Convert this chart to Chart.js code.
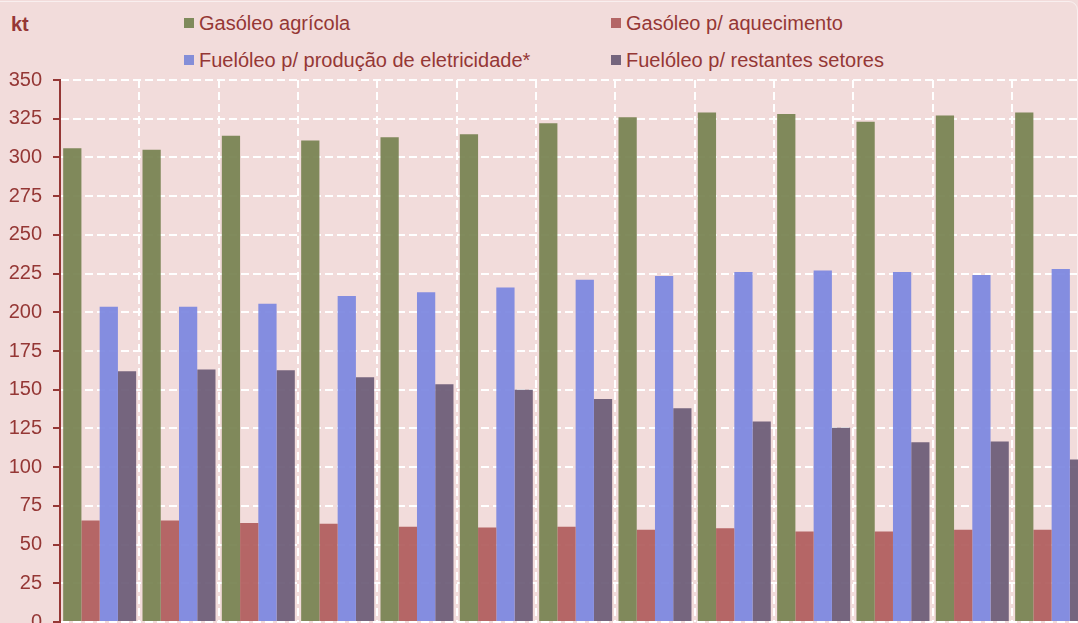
<!DOCTYPE html>
<html lang="pt">
<head>
<meta charset="utf-8">
<script src="https://cdn.jsdelivr.net/npm/chart.js@4.4.1/dist/chart.umd.min.js"></script>
<style>
    html, body {
        margin: 0;
        padding: 0;
        width: 1078px;
        height: 623px;
        overflow: hidden;
        background: #f2dcdb;
        font-family: "Liberation Sans", Arial, sans-serif;
    }
    #moldura {
        position: absolute;
        left: -10px;
        top: 1px;
        width: 1086px;
        height: 640px;
        border: 1px solid rgba(255, 255, 255, 0.55);
        border-radius: 9px;
    }
    #unidade {
        position: absolute;
        left: 11px;
        top: 13px;
        font-size: 20px;
        font-weight: bold;
        color: #953735;
    }
    .legenda {
        position: absolute;
        font-size: 20px;
        color: #953735;
        white-space: nowrap;
        line-height: 22px;
    }
    .legenda span {
        display: inline-block;
        width: 10px;
        height: 10px;
        margin-right: 5px;
        vertical-align: 2px;
    }
    #caixa {
        position: absolute;
        left: 0;
        top: 0;
    }
</style>
</head>
<body>
<div id="moldura"></div>
<div id="unidade">kt</div>
<div id="legendas"></div>
<canvas id="caixa" width="1100" height="645"></canvas>
<script>
// anos (rótulos do eixo x, não visíveis no recorte)
const anos = ["2010", "2011", "2012", "2013", "2014", "2015", "2016", "2017", "2018", "2019", "2020", "2021", "2022"];

const gasoleoAgricola = [306, 305, 314, 311, 313, 315, 322, 326, 329, 328, 323, 327, 329];
const gasoleoAquecimento = [65.5, 65.5, 64, 63.5, 61.5, 61, 61.5, 59.5, 60.5, 58.5, 58.5, 59.5, 59.5];
const fueloleoEletricidade = [203.5, 203.5, 205.5, 210.5, 213, 216, 221, 223.5, 226, 227, 226, 224, 228];
const fueloleoRestantes = [162, 163, 162.5, 158, 153.5, 150, 144, 138, 129.5, 125.5, 116, 116.5, 105];

const nomes = ["Gasóleo agrícola", "Gasóleo p/ aquecimento", "Fuelóleo p/ produção de eletricidade*", "Fuelóleo p/ restantes setores"];
const cores = ["rgba(119,130,81,0.93)", "rgba(176,92,92,0.93)", "rgba(124,135,224,0.93)", "rgba(108,91,118,0.93)"];
const coresLegenda = ["#7f8a5b", "#b46666", "#848ed8", "#75657d"];

const yTicks = [0, 25, 50, 75, 100, 125, 150, 175, 200, 225, 250, 275, 300, 325, 350];

const corTexto = "#953735";

// legenda em HTML: duas colunas, duas linhas
const posLegenda = [
    { left: 184, top: 12 },
    { left: 611, top: 12 },
    { left: 184, top: 49 },
    { left: 611, top: 49 },
];
const divLegendas = document.getElementById("legendas");
nomes.forEach((nome, i) => {
    const item = document.createElement("div");
    item.className = "legenda";
    item.style.left = posLegenda[i].left + "px";
    item.style.top = posLegenda[i].top + "px";
    item.innerHTML = '<span style="background:' + coresLegenda[i] + '"></span>' + nome;
    divLegendas.appendChild(item);
});

const series = [gasoleoAgricola, gasoleoAquecimento, fueloleoEletricidade, fueloleoRestantes];

// o rótulo "0" já reserva ~23px em baixo, por isso o canvas é mais alto que a janela
const canvas = document.getElementById("caixa");
const grafico = new Chart(canvas, {
    type: "bar",
    data: {
        labels: anos,
        datasets: series.map((valores, i) => ({
            label: nomes[i],
            data: valores,
            backgroundColor: cores[i],
            borderWidth: 0,
            categoryPercentage: 0.92,
            barPercentage: 1,
        })),
    },
    options: {
        responsive: false,
        animation: false,
        devicePixelRatio: 1,
        layout: {
            padding: { top: 80, bottom: 0, left: 0, right: 8.7 },
        },
        plugins: {
            legend: { display: false },
            tooltip: { enabled: false },
        },
        scales: {
            x: {
                ticks: { display: false },
                grid: {
                    color: "#ffffff",
                    lineWidth: 2,
                    drawTicks: false,
                },
                border: { display: false, dash: [8, 4] },
                afterFit: (escala) => {
                    escala.height = 0;
                },
            },
            y: {
                min: 0,
                max: 350,
                afterBuildTicks: (escala) => {
                    escala.ticks = yTicks.map((v) => ({ value: v }));
                },
                ticks: {
                    color: corTexto,
                    padding: 11,
                    font: { family: "'Liberation Sans', Arial, sans-serif", size: 20 },
                },
                grid: {
                    color: "#ffffff",
                    lineWidth: 2,
                    tickLength: 7,
                    tickColor: corTexto,
                    tickWidth: 2,
                },
                border: { display: true, color: corTexto, width: 2, dash: [8, 4] },
                afterFit: (escala) => {
                    escala.width = 60;
                },
            },
        },
    },
});
</script>
</body>
</html>
